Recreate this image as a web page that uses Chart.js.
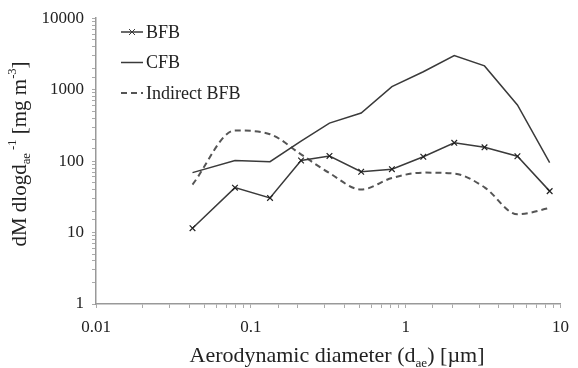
<!DOCTYPE html>
<html>
<head>
<meta charset="utf-8">
<script src="https://cdn.jsdelivr.net/npm/chart.js@4/dist/chart.umd.min.js"></script>
<style>
  html, body { margin: 0; padding: 0; background: #fff; }
  #wrap { width: 578px; height: 368px; }
</style>
</head>
<body>
<div id="wrap"><canvas id="chart" width="578" height="368"></canvas></div>
<script>
// aerodynamic diameter of each impactor stage [um]
var diameters = [0.042, 0.079, 0.133, 0.211, 0.322, 0.516, 0.815, 1.30, 2.06, 3.23, 5.27, 8.51];

// dM/dlogdae [mg m-3]
var bfbValues = [11.5, 42.5, 30.5, 102, 118, 71, 77, 115, 180, 156, 117, 38];
var cfbValues = [69, 102, 98, 190, 340, 470, 1100, 1780, 3000, 2150, 610, 95];
var indirectBfbValues = [47, 268, 238, 124, 68, 40, 58, 69, 67, 43, 18, 22];

var seriesNames = ['BFB', 'CFB', 'Indirect BFB'];

// only decades get a label
var xTickLabels = ['0.01', '0.1', '1', '10'];
var yTickLabels = ['1', '10', '100', '1000', '10000'];

var serif = "'Liberation Serif', 'DejaVu Serif', serif";
var ink = '#222';

var toPoints = function(xs, ys){
    var pts = [];
    for (var i = 0; i < xs.length; i++) {
        pts.push({x: xs[i], y: ys[i]});
    }
    return pts;
};

var decadeLabel = function(value, min, labels){
    var e = Math.log10(value);
    var r = Math.round(e);
    if (Math.abs(e - r) > 1e-6) return '';
    return labels[r - Math.round(Math.log10(min))] || '';
};

// draws text made of normal / sub / sup pieces, centred on (cx, cy)
var drawRich = function(ctx, parts, cx, cy, size, angle){
    ctx.save();
    ctx.translate(cx, cy);
    ctx.rotate(angle);
    var total = 0;
    var widths = [];
    for (var i = 0; i < parts.length; i++) {
        var fs = parts[i].s ? size * 0.6 : size;
        ctx.font = fs + 'px ' + serif;
        var w = ctx.measureText(parts[i].t).width;
        widths.push(w);
        total += w;
    }
    var x = -total / 2;
    ctx.fillStyle = ink;
    ctx.textBaseline = 'middle';
    ctx.textAlign = 'left';
    for (var j = 0; j < parts.length; j++) {
        var p = parts[j];
        var fs2 = p.s ? size * 0.6 : size;
        var dy = 0;
        if (p.s == 'sub') dy = size * 0.32;
        if (p.s == 'sup') dy = -size * 0.36;
        ctx.font = fs2 + 'px ' + serif;
        ctx.fillText(p.t, x, dy);
        x += widths[j];
    }
    ctx.restore();
};

var axisTitles = {
    id: 'axisTitles',
    afterDraw: function(chart){
        var ctx = chart.ctx;
        drawRich(ctx, [
            {t: 'Aerodynamic diameter (d'},
            {t: 'ae', s: 'sub'},
            {t: ') [\u00b5m]'}
        ], 337, 356, 22, 0);
        drawRich(ctx, [
            {t: 'dM dlogd'},
            {t: 'ae', s: 'sub'},
            {t: ' -1', s: 'sup'},
            {t: ' [mg m'},
            {t: '-3', s: 'sup'},
            {t: ']'}
        ], 20, 154, 21, -Math.PI / 2);
    }
};

// legend drawn inside the plot, top left
var insideLegend = {
    id: 'insideLegend',
    afterDraw: function(chart){
        var ctx = chart.ctx;
        var sets = chart.data.datasets;
        var x0 = 121, x1 = 143, y0 = 32, step = 30.5;
        for (var i = 0; i < sets.length; i++) {
            var ds = sets[i];
            var y = y0 + i * step;
            ctx.save();
            ctx.strokeStyle = ds.borderColor;
            ctx.lineWidth = ds.borderWidth;
            ctx.setLineDash(ds.borderDash || []);
            ctx.beginPath();
            ctx.moveTo(x0, y);
            ctx.lineTo(x1, y);
            ctx.stroke();
            ctx.setLineDash([]);
            if (ds.pointStyle == 'crossRot') {
                var m = (x0 + x1) / 2, r = 3;
                ctx.lineWidth = 1;
                ctx.beginPath();
                ctx.moveTo(m - r, y - r); ctx.lineTo(m + r, y + r);
                ctx.moveTo(m - r, y + r); ctx.lineTo(m + r, y - r);
                ctx.stroke();
            }
            ctx.fillStyle = ink;
            ctx.font = '18px ' + serif;
            ctx.textBaseline = 'middle';
            ctx.fillText(ds.label, x1 + 3, y + 1);
            ctx.restore();
        }
    }
};

var ctx = document.getElementById('chart').getContext('2d');
var chartObj = new Chart(ctx, {
    type: 'line',
    data: {
        datasets: [{
            label: seriesNames[0],
            data: toPoints(diameters, bfbValues),
            borderColor: '#3a3a3a',
            borderWidth: 1.5,
            pointStyle: 'crossRot',
            pointRadius: 4,
            pointBorderWidth: 1.2,
            pointBorderColor: '#222',
            tension: 0
        }, {
            label: seriesNames[1],
            data: toPoints(diameters, cfbValues),
            borderColor: '#3a3a3a',
            borderWidth: 1.5,
            pointRadius: 0,
            tension: 0
        }, {
            label: seriesNames[2],
            data: toPoints(diameters, indirectBfbValues),
            borderColor: '#555',
            borderWidth: 2,
            borderDash: [6, 4],
            pointRadius: 0,
            cubicInterpolationMode: 'monotone'
        }]
    },
    options: {
        responsive: false,
        animation: false,
        layout: { padding: { top: 16, right: 11, left: 0, bottom: 0 } },
        plugins: {
            legend: { display: false },
            tooltip: { enabled: false }
        },
        scales: {
            x: {
                type: 'logarithmic',
                min: 0.01,
                max: 10,
                afterFit: function(scale){ scale.height = 64; },
                grid: { drawOnChartArea: false, drawTicks: true, tickLength: 4, color: '#aaa' },
                border: { color: '#999', width: 1.5 },
                ticks: {
                    autoSkip: false,
                    maxRotation: 0,
                    padding: 9,
                    color: ink,
                    font: { family: serif, size: 17 },
                    callback: function(v){ return decadeLabel(v, 0.01, xTickLabels); }
                }
            },
            y: {
                type: 'logarithmic',
                min: 1,
                max: 10000,
                afterFit: function(scale){ scale.width = 96; },
                grid: { drawOnChartArea: false, drawTicks: true, tickLength: 4, color: '#aaa' },
                border: { color: '#999', width: 1.5 },
                ticks: {
                    autoSkip: false,
                    padding: 8,
                    color: ink,
                    font: { family: serif, size: 17 },
                    callback: function(v){ return decadeLabel(v, 1, yTickLabels); }
                }
            }
        }
    },
    plugins: [axisTitles, insideLegend]
});
</script>
</body>
</html>
